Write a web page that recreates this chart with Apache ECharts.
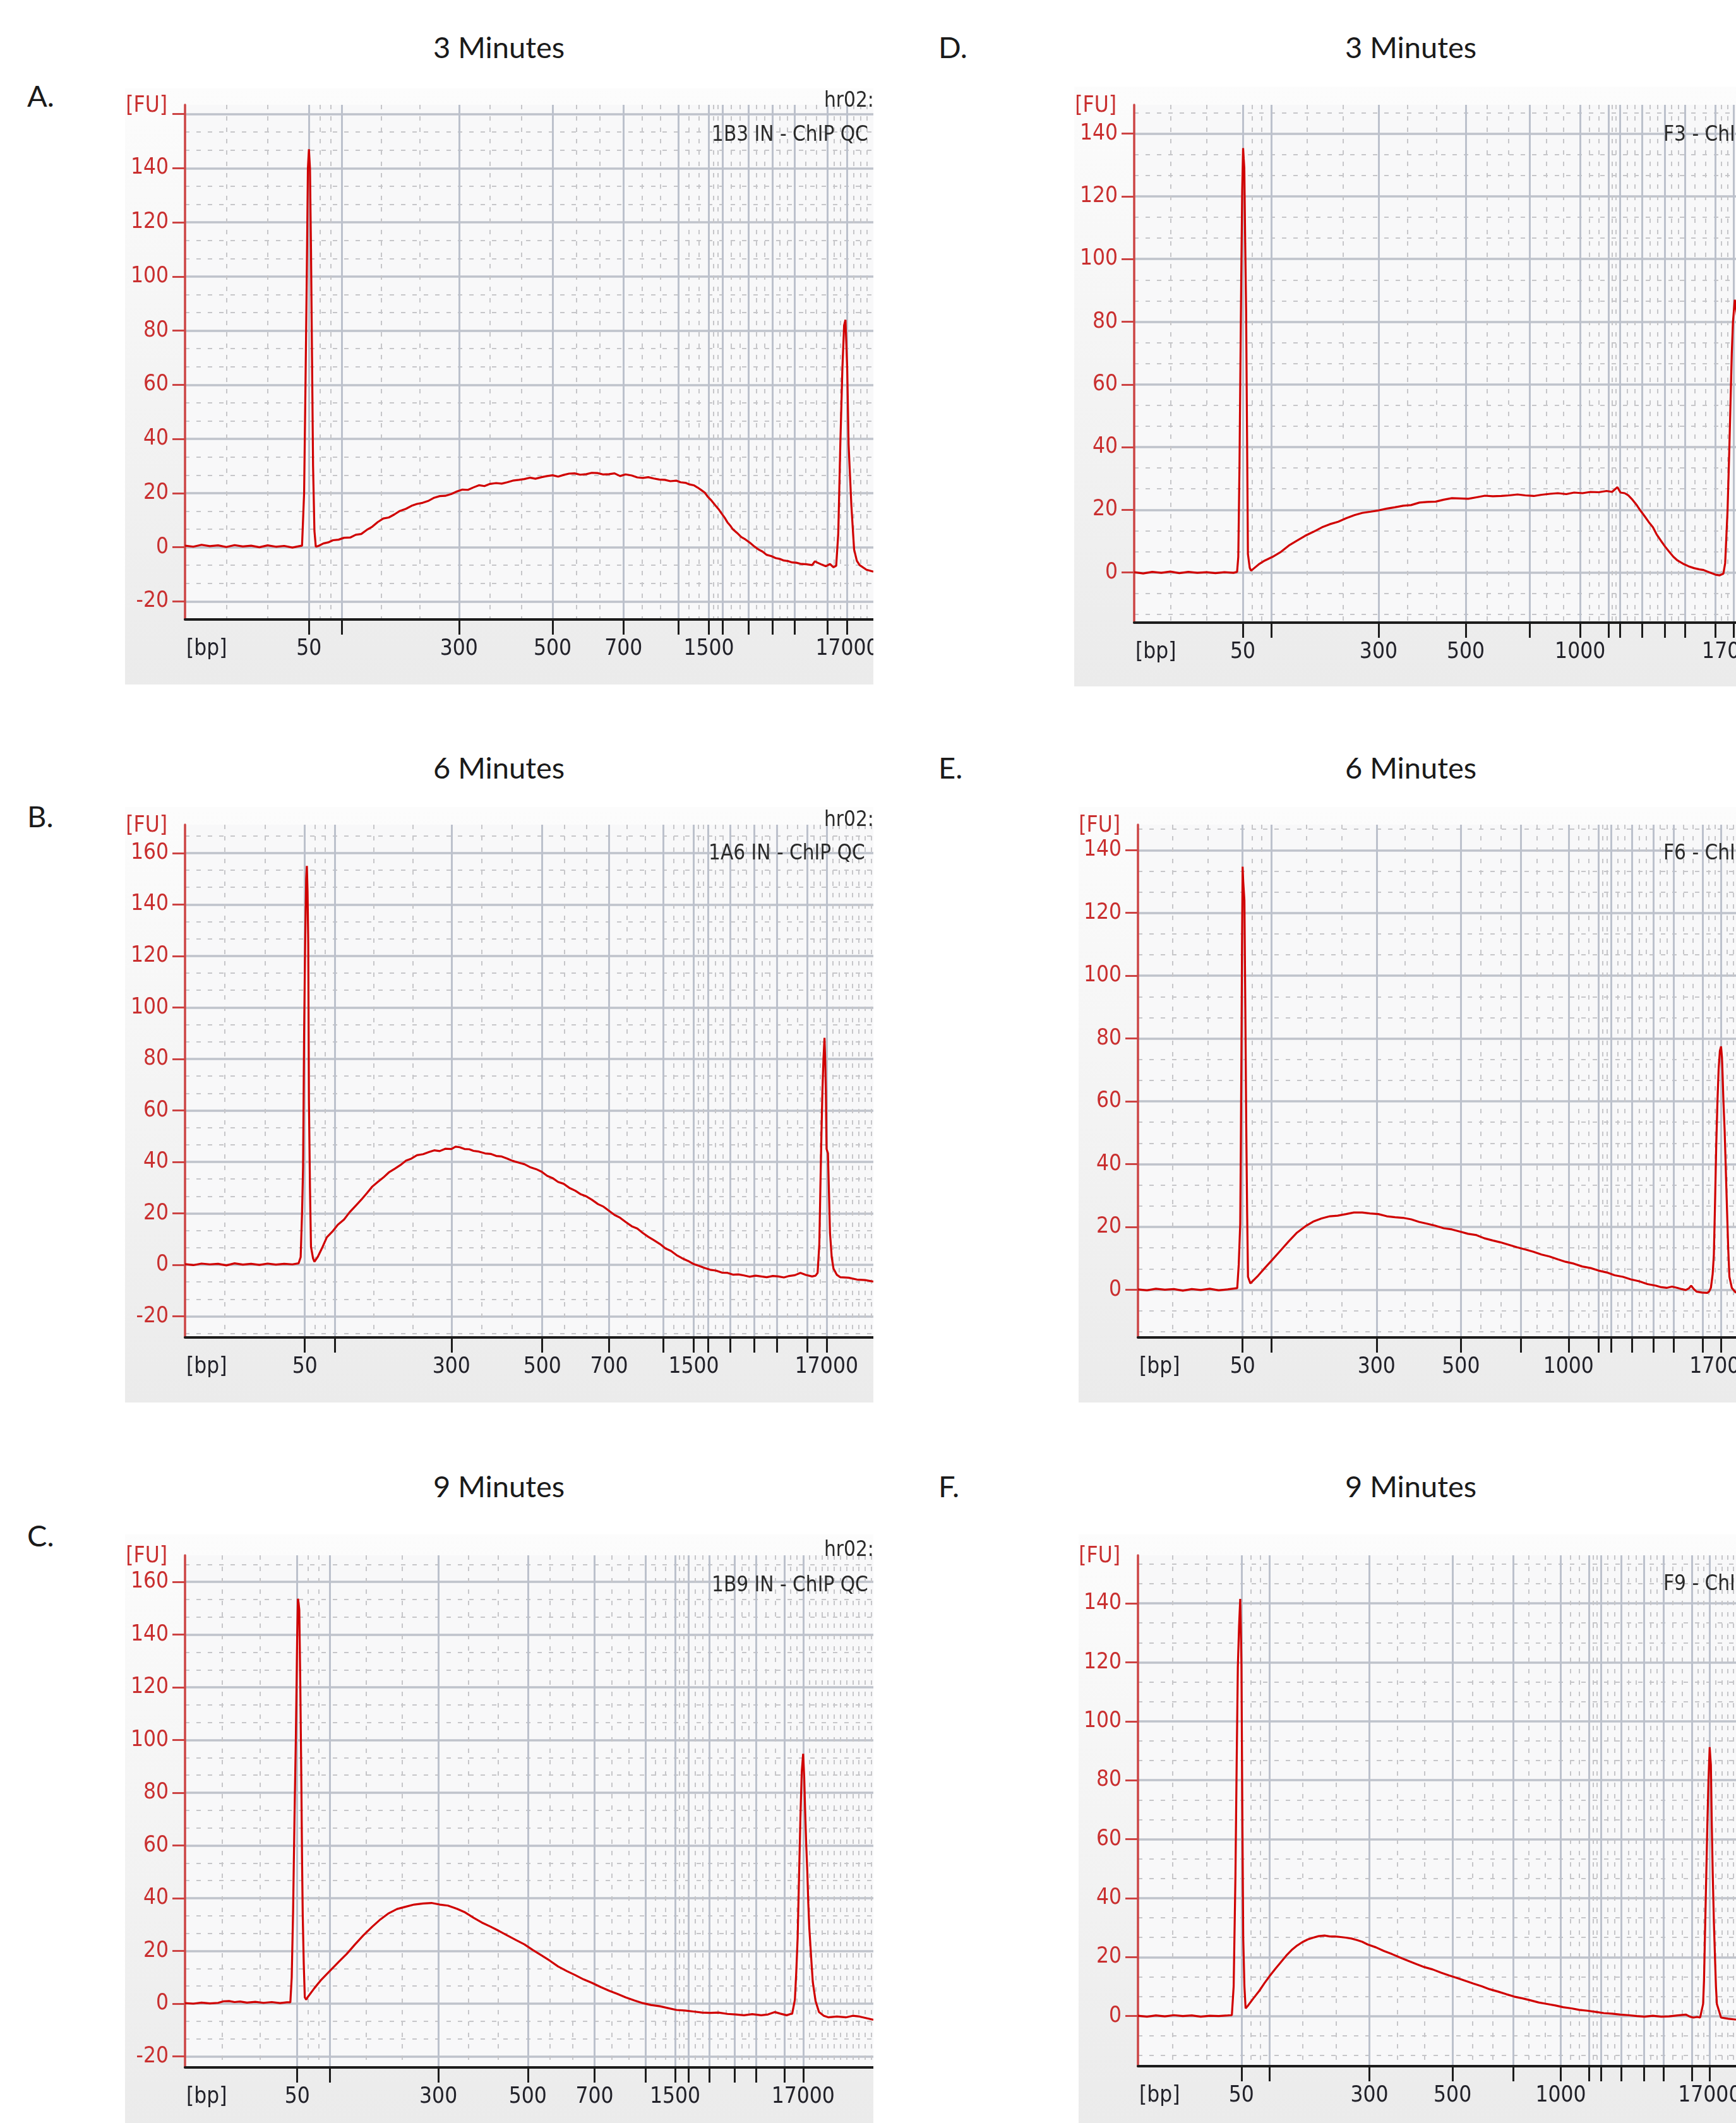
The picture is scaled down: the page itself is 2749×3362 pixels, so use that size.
<!DOCTYPE html>
<html>
<head>
<meta charset="utf-8">
<script src="https://cdn.jsdelivr.net/npm/echarts@6/dist/echarts.min.js"></script>
<style>
  body { margin: 0; width: 2749px; height: 3362px; background: #fff; position: relative; overflow: hidden; }
  .panel { position: absolute; overflow: hidden; background: linear-gradient(#fcfcfc, #ebebeb); }
  .chart { position: absolute; left: 0; top: 0; }
  .title { position: absolute; font: 47px Lato, "Open Sans", sans-serif; line-height: 1; color: #1a1a1a; transform: translate(-50%, -50%); white-space: nowrap; }
  .letter { position: absolute; font: 47px Lato, "Open Sans", sans-serif; line-height: 1; color: #1a1a1a; transform: translateY(-50%); }
</style>
</head>
<body>
<div class="title" style="left:790px;top:74px">3 Minutes</div>
<div class="title" style="left:790px;top:1215px">6 Minutes</div>
<div class="title" style="left:790px;top:2353px">9 Minutes</div>
<div class="title" style="left:2234px;top:74px">3 Minutes</div>
<div class="title" style="left:2234px;top:1215px">6 Minutes</div>
<div class="title" style="left:2234px;top:2353px">9 Minutes</div>
<div class="letter" style="left:43px;top:151px">A.</div>
<div class="letter" style="left:43px;top:1292px">B.</div>
<div class="letter" style="left:43px;top:2431px">C.</div>
<div class="letter" style="left:1486px;top:74px">D.</div>
<div class="letter" style="left:1486px;top:1215px">E.</div>
<div class="letter" style="left:1486px;top:2353px">F.</div>

<script>
// migration position as % of the visible plot width, ladder ticks and their bp labels
const xTicksA = [18.0, 22.8, 39.8, 53.4, 63.7, 71.7, 76.1, 78.1, 81.9, 85.3, 88.6, 93.3, 96.2];
const xTicksB = [17.4, 21.8, 38.7, 51.9, 61.6, 69.5, 73.9, 76.0, 79.2, 82.7, 86.0, 90.4, 93.2];
const xTicksC = [16.3, 21.0, 36.8, 49.8, 59.5, 66.9, 71.2, 73.1, 76.2, 79.8, 83.0, 87.1, 89.8];
const xTicksD = [18.05, 22.8, 40.6, 55.1, 65.7, 74.1, 78.8, 80.7, 84.4, 88.2, 91.5, 96.6, 99.6];
const xTicksE = [17.5, 22.3, 39.9, 54.0, 64.0, 72.0, 77.0, 79.1, 82.6, 86.2, 89.6, 94.4, 97.5];
const xTicksF = [17.3, 22.0, 38.7, 52.6, 62.7, 70.7, 75.4, 77.4, 80.8, 84.6, 87.9, 92.6, 95.6];
const xLabelsLeft = ['50', '', '300', '500', '700', '', '1500', '', '', '', '', '', '17000'];
const xLabelsRight = ['50', '', '300', '500', '', '1000', '', '', '', '', '', '', '17000'];

const yLabelsA = [-20, 0, 20, 40, 60, 80, 100, 120, 140];
const yLabelsBC = [-20, 0, 20, 40, 60, 80, 100, 120, 140, 160];
const yLabelsDEF = [0, 20, 40, 60, 80, 100, 120, 140];

const samples = ['1B3 IN - ChIP QC', '1A6 IN - ChIP QC', '1B9 IN - ChIP QC', 'F3 - ChIP QC', 'F6 - ChIP QC', 'F9 - ChIP QC'];

// [position, FU]
const curveA = [[0,0.6],[1.2,0.2],[2.4,0.9],[3.6,0.4],[4.8,0.7],[6,0.1],[7.2,0.8],[8.4,0.3],[9.6,0.6],[10.8,0.0],[12,0.7],[13.2,0.2],[14.4,0.5],[15.6,-0.1],[16.6,0.4],[17.0,0.6],
  [17.3,20],[17.5,60],[17.7,103],[17.85,140],[18.0,147],[18.15,140],[18.3,110],[18.45,70],[18.6,30],[18.8,6],[19.0,0.2],
  [19.4,0.5],[20.1,1.4],[20.8,1.8],[21.5,2.6],[22.3,2.8],[23.1,3.5],[24.0,3.6],[24.8,4.6],[25.6,4.9],[26.4,6.4],[27.2,7.6],[28.0,9.3],[28.8,10.6],[29.6,11.0],[30.4,12.1],[31.2,13.4],[32.1,14.2],[32.9,15.3],[33.7,16.0],[34.5,16.4],[35.4,17.2],[36.2,18.3],[37.0,18.9],[37.8,19.0],[38.7,19.7],[39.5,20.6],[40.3,21.3],[41.1,21.2],[41.9,22.1],[42.7,22.9],[43.5,22.6],[44.3,23.4],[45.2,23.7],[46.0,23.5],[46.8,24.0],[47.6,24.6],[48.5,24.9],[49.3,25.2],[50.1,25.7],[50.9,25.3],[51.8,25.9],[52.6,26.3],[53.4,26.6],[54.2,26.1],[55.0,26.7],[55.8,27.2],[56.6,27.3],[57.4,26.8],[58.3,27.0],[59.1,27.5],[59.9,27.4],[60.7,26.9],[61.6,27.0],[62.4,27.3],[63.2,26.3],[64.0,26.9],[64.9,26.5],[65.7,25.8],[66.5,25.6],[67.3,25.9],[68.1,25.4],[68.9,25.0],[69.7,24.9],[70.5,24.4],[71.4,24.6],[72.0,24.0],[72.7,23.8],[73.3,23.2],[73.9,22.9],[74.5,22.0],[75.0,21.1],[75.5,20.2],[75.9,18.8],[76.5,17.2],[77.0,15.6],[77.5,14.1],[78.0,12.3],[78.4,10.9],[78.8,9.2],[79.2,8.0],[79.6,6.6],[80.2,5.3],[80.8,3.8],[81.4,2.9],[82.1,1.6],[82.7,0.3],[83.3,-0.8],[83.9,-1.6],[84.5,-2.8],[85.2,-3.3],[85.8,-4.0],[86.4,-4.3],[87.0,-4.9],[87.6,-5.1],[88.2,-5.6],[88.8,-5.7],[89.4,-6.1],[90.3,-6.3],[91.1,-6.6],[91.5,-5.2],[91.9,-5.7],[92.5,-6.4],[93.1,-7.0],[93.7,-6.2],[94.2,-7.4],[94.6,-6.8],
  [94.9,5],[95.2,38],[95.5,66],[95.75,82],[95.95,84],[96.2,66],[96.4,38],[96.8,15.6],[97.2,-0.8],[97.6,-5],[98.0,-6.6],[99.0,-8.3],[100,-9]];

const curveB = [[0,0.3],[1.2,-0.1],[2.4,0.5],[3.6,0.2],[4.8,0.4],[6,-0.2],[7.2,0.6],[8.4,0.1],[9.6,0.4],[10.8,0.0],[12,0.5],[13.2,0.1],[14.4,0.4],[15.6,0.2],[16.5,0.6],
  [16.8,3],[17.0,20],[17.15,38],[17.3,90],[17.45,125],[17.6,150],[17.7,155],[17.8,145],[17.9,125],[18.0,64],[18.15,30],[18.3,7],[18.6,2.5],[18.8,1.2],
  [19.3,3.2],[19.9,6.5],[20.6,10.7],[21.4,12.9],[22.2,15.6],[23.1,17.6],[23.9,20.4],[24.8,23.0],[25.6,25.3],[26.4,27.8],[27.2,30.4],[28.0,32.2],[28.8,33.9],[29.6,35.9],[30.5,37.4],[31.3,38.8],[32.1,40.5],[32.9,41.3],[33.7,42.6],[34.6,43.0],[35.4,43.8],[36.2,44.5],[37.0,44.2],[37.8,45.1],[38.7,45.0],[39.3,45.9],[39.9,45.7],[40.6,45.0],[41.3,44.9],[41.9,44.3],[42.7,44.0],[43.6,43.3],[44.4,43.1],[45.2,42.3],[46.0,42.1],[46.8,41.3],[47.6,40.4],[48.5,39.7],[49.3,39.1],[50.1,38.0],[51.0,37.2],[51.8,36.2],[52.6,34.6],[53.4,33.7],[54.2,32.2],[55.0,31.5],[55.9,29.8],[56.7,28.8],[57.5,27.4],[58.3,26.6],[59.1,25.3],[60.0,23.6],[60.8,22.6],[61.6,21.0],[62.4,19.4],[63.2,18.3],[64.0,16.7],[64.9,15.0],[65.7,14.1],[66.5,12.4],[67.3,10.9],[68.1,9.6],[69.0,8.1],[69.8,6.4],[70.6,5.4],[71.4,3.8],[72.2,2.6],[73.1,1.5],[73.9,0.3],[74.7,-0.4],[75.5,-1.2],[76.3,-1.9],[77.1,-2.2],[78.0,-3.0],[78.8,-3.1],[79.6,-3.8],[80.4,-3.7],[81.2,-4.1],[82.0,-4.6],[82.9,-4.2],[83.7,-4.5],[84.5,-4.8],[85.4,-4.3],[86.2,-4.5],[87.0,-4.9],[87.8,-4.3],[88.6,-4.0],[89.4,-3.1],[90.2,-3.9],[91.1,-4.5],[91.6,-4.2],
  [91.9,-3.1],[92.15,8],[92.3,29.6],[92.45,50],[92.6,67.5],[92.75,80],[92.9,88.2],[93.0,80],[93.1,67.5],[93.2,45],[93.4,43.4],[93.55,28],[93.7,12.4],[93.95,3],[94.2,-1.4],[94.7,-3.9],[95.2,-4.8],[96.4,-5.0],[97.6,-5.7],[98.8,-5.9],[100,-6.5]];

const curveC = [[0,0.2],[1.2,0.0],[2.4,0.4],[3.6,0.1],[4.8,0.3],[5.6,0.9],[6.4,1.0],[7.2,0.6],[8.0,0.8],[9.0,0.4],[10.2,0.7],[11.4,0.3],[12.6,0.6],[13.8,0.2],[14.8,0.5],[15.3,0.5],
  [15.5,10],[15.7,35],[15.9,70],[16.1,100.7],[16.3,140],[16.4,153.6],[16.5,152],[16.6,149.4],[16.75,120],[16.9,83.9],[17.0,55],[17.1,33.4],[17.25,15],[17.4,2.4],[17.6,1.5],
  [17.8,2.4],[18.8,5.9],[19.8,9.1],[21.0,12.3],[22.3,15.8],[23.5,18.9],[24.7,22.5],[25.9,25.9],[27.2,29.2],[28.4,32.0],[29.6,34.3],[30.8,35.9],[32.1,36.8],[33.3,37.6],[34.6,38.0],[35.8,38.2],[37.0,37.6],[38.2,37.2],[39.5,36.0],[40.7,34.6],[41.9,32.6],[43.1,30.8],[44.4,29.2],[45.6,27.6],[46.8,25.9],[48.1,24.1],[49.3,22.5],[50.5,20.4],[51.8,18.3],[53.0,16.3],[54.2,14.1],[55.5,12.3],[56.7,10.8],[57.9,9.2],[59.1,7.9],[60.4,6.3],[61.6,4.9],[62.8,3.7],[64.0,2.4],[65.3,1.2],[66.5,0.2],[67.7,-0.5],[69.0,-1.0],[70.2,-1.7],[71.4,-2.4],[72.6,-2.6],[73.9,-3.0],[75.1,-3.4],[76.3,-3.5],[77.5,-3.4],[78.8,-3.9],[80.0,-4.1],[81.2,-4.4],[82.4,-4.0],[83.7,-4.4],[84.7,-4.1],[85.7,-3.2],[86.5,-3.8],[87.4,-4.4],[88.0,-3.9],[88.2,-3.9],
  [88.6,1.5],[88.8,12],[89.0,25],[89.2,48],[89.4,70.4],[89.6,88],[89.8,94.8],[89.95,86],[90.1,72.1],[90.25,60],[90.4,50.3],[90.55,38],[90.7,28.4],[91.0,16],[91.2,8.2],[91.6,1],[92.1,-3.2],[92.8,-4.6],[93.5,-5.2],[94.7,-4.9],[96.0,-5.2],[97.0,-4.6],[98.0,-4.9],[99.0,-5.5],[100,-6.1]];

const curveD = [[0,0.1],[1.5,-0.3],[3,0.2],[4.5,-0.1],[6,0.3],[7.5,-0.2],[9,0.2],[10.5,-0.1],[12,0.1],[13.5,-0.2],[15,0.1],[16.5,-0.1],[17.1,0.2],
  [17.3,5],[17.5,34.2],[17.65,65],[17.8,95],[17.95,122],[18.1,135.4],[18.2,132],[18.3,129],[18.45,105],[18.6,83.7],[18.75,45],[18.9,5.9],[19.2,1.5],[19.4,0.6],
  [19.7,1.0],[20.7,2.6],[21.7,3.8],[23.0,5.0],[24.4,6.6],[25.7,8.6],[27.1,10.2],[28.4,11.7],[29.8,13.0],[31.2,14.4],[32.5,15.4],[33.9,16.2],[35.2,17.3],[36.6,18.3],[37.9,19.0],[39.3,19.4],[40.6,19.8],[42.0,20.4],[43.3,20.8],[44.7,21.3],[46.0,21.5],[47.4,22.3],[48.7,22.5],[50.1,22.6],[51.4,23.2],[52.8,23.7],[54.2,23.6],[55.5,23.5],[56.9,24.0],[58.3,24.5],[59.6,24.3],[61.0,24.4],[62.3,24.6],[63.7,24.9],[65.0,24.6],[66.4,24.4],[67.7,24.8],[69.1,25.1],[70.4,25.3],[71.8,25.0],[73.1,25.5],[74.5,25.3],[75.8,25.7],[77.2,25.6],[78.5,26.0],[79.4,25.7],[80.3,27.2],[80.8,25.5],[81.5,25.3],[82.1,24.6],[82.8,23.2],[83.5,21.5],[84.1,19.8],[84.8,18.0],[85.5,16.1],[86.2,14.4],[86.8,12.2],[87.5,10.2],[88.2,8.3],[88.9,6.6],[89.6,5.0],[90.3,3.8],[91.2,2.8],[92.1,2.0],[93.0,1.4],[93.9,1.0],[94.6,0.8],[95.2,0.3],[95.9,-0.2],[96.6,-0.7],[97.3,-0.9],[97.9,-0.4],
  [98.2,3],[98.6,20],[98.9,40],[99.1,55],[99.3,70],[99.5,80],[99.8,87],[100.3,80]];

const curveE = [[0,0.1],[1.5,-0.2],[3,0.3],[4.5,0.0],[6,0.2],[7.5,-0.3],[9,0.2],[10.5,-0.1],[12,0.3],[13.5,-0.2],[15,0.1],[16.6,0.5],
  [16.85,8],[17.1,21],[17.2,45],[17.3,74.7],[17.4,110],[17.5,134.7],[17.6,130],[17.8,124],[17.95,90],[18.1,53.5],[18.25,25],[18.4,4.1],[18.8,2.0],
  [19.0,2.4],[20.1,4.5],[21.2,6.9],[22.5,9.6],[23.9,12.6],[25.2,15.4],[26.6,18.2],[28.0,20.2],[29.3,21.7],[30.7,22.7],[32.1,23.4],[33.4,23.6],[34.8,24.1],[36.1,24.6],[37.5,24.6],[38.8,24.3],[40.2,24.1],[41.6,23.4],[43.0,23.1],[44.3,22.9],[45.7,22.4],[47.0,21.6],[48.4,21.0],[49.7,20.4],[51.1,19.6],[52.5,19.2],[53.9,18.5],[55.2,17.8],[56.6,17.4],[57.9,16.4],[59.3,15.7],[60.6,15.1],[62.0,14.3],[63.4,13.5],[64.8,12.8],[66.1,12.1],[67.5,11.2],[68.8,10.6],[70.2,9.7],[71.5,8.9],[72.9,8.3],[74.3,7.4],[75.7,6.9],[77.0,6.1],[78.4,5.5],[79.7,4.6],[81.1,4.1],[82.4,3.3],[83.8,2.7],[85.2,1.8],[86.6,1.3],[87.5,0.8],[88.4,0.6],[89.3,1.0],[90.2,0.6],[90.9,0.2],[91.6,-0.1],[92.1,0.4],[92.5,1.3],[93.0,0.1],[93.4,-0.6],[94.3,-0.9],[95.2,-1.0],[95.5,-0.6],
  [95.8,0.6],[96.1,5],[96.3,11.2],[96.5,28],[96.7,46.4],[96.9,60],[97.1,70.4],[97.3,76],[97.5,77.5],[97.65,74],[97.7,71.8],[97.9,60],[98.1,50.7],[98.3,38],[98.5,25.3],[98.7,13],[98.9,4.1],[99.3,0.6],[100,-1.0]];

const curveF = [[0,0.1],[1.5,-0.2],[3,0.2],[4.5,-0.1],[6,0.3],[7.5,0.0],[9,0.2],[10.5,-0.2],[12,0.1],[13.5,0.0],[15,0.2],[15.7,0.3],
  [16.0,10],[16.3,47.6],[16.5,85],[16.7,118.3],[16.9,132],[17.1,141.5],[17.2,132],[17.3,119.8],[17.45,70],[17.6,26.6],[17.8,10],[18.0,2.6],[18.3,3.3],
  [19.3,6.0],[20.3,8.6],[21.2,11.3],[22.1,13.8],[23.0,16.1],[23.9,18.3],[24.8,20.5],[25.7,22.4],[26.6,23.9],[27.5,25.1],[28.4,26.0],[29.3,26.6],[30.2,27.1],[31.2,27.3],[32.1,27.0],[33.0,27.0],[33.9,26.8],[34.8,26.6],[35.7,26.3],[36.6,25.8],[37.5,25.2],[38.4,24.3],[39.8,23.3],[41.1,22.1],[42.5,21.0],[43.9,19.8],[45.2,18.7],[46.6,17.6],[47.9,16.6],[49.3,15.8],[50.7,14.7],[52.0,13.8],[53.4,12.9],[54.8,11.9],[56.1,11.0],[57.5,10.1],[58.8,9.1],[60.2,8.3],[61.6,7.4],[62.9,6.6],[64.3,6.0],[65.7,5.3],[67.0,4.6],[68.4,4.1],[69.8,3.6],[71.1,3.0],[72.5,2.6],[73.8,2.1],[75.2,1.8],[76.6,1.4],[77.9,1.0],[79.3,0.8],[80.7,0.5],[82.0,0.3],[83.4,0.0],[84.7,-0.2],[86.1,0.1],[87.5,-0.2],[88.8,-0.1],[90.2,0.2],[91.6,0.5],[92.3,-0.2],[92.9,-0.5],[93.5,-0.3],[94.0,-0.5],
  [94.5,4.1],[94.65,12],[94.8,26.6],[95.0,45],[95.2,64.2],[95.4,80],[95.6,91.2],[95.7,88],[95.8,85.2],[95.95,65],[96.1,49.1],[96.3,32],[96.5,19.1],[96.65,10],[96.8,4.1],[97.5,-0.5],[98.7,-0.9],[100,-1.2]];

// page layout of each panel (box = left, top, width, height of the grey frame)
const panels = [
  { box: [198, 140, 1185, 944], axisX: 293, top: 166, bottom: 981, yMin: -26.67, yMax: 163.4, ticks: xTicksA, labels: xLabelsLeft, yLabels: yLabelsA, curve: curveA, sample: samples[0], sampleAt: [1127, 214], hrAt: [1305, 160] },
  { box: [198, 1278, 1185, 943], axisX: 293, top: 1306, bottom: 2118, yMin: -28.2, yMax: 171, ticks: xTicksB, labels: xLabelsLeft, yLabels: yLabelsBC, curve: curveB, sample: samples[1], sampleAt: [1122, 1352], hrAt: [1305, 1299] },
  { box: [198, 2430, 1185, 932], axisX: 293, top: 2463, bottom: 3274, yMin: -24.2, yMax: 170.1, ticks: xTicksC, labels: xLabelsLeft, yLabels: yLabelsBC, curve: curveC, sample: samples[2], sampleAt: [1127, 2511], hrAt: [1305, 2455] },
  { box: [1701, 137, 1048, 950], axisX: 1796, top: 166, bottom: 986, yMin: -16.0, yMax: 149.2, ticks: xTicksD, labels: xLabelsRight, yLabels: yLabelsDEF, curve: curveD, sample: samples[3], sampleAt: [2634, 214] },
  { box: [1708, 1278, 1041, 943], axisX: 1802, top: 1306, bottom: 2118, yMin: -15.2, yMax: 148.1, ticks: xTicksE, labels: xLabelsRight, yLabels: yLabelsDEF, curve: curveE, sample: samples[4], sampleAt: [2634, 1352] },
  { box: [1708, 2430, 1041, 932], axisX: 1802, top: 2463, bottom: 3272, yMin: -17.0, yMax: 156.3, ticks: xTicksF, labels: xLabelsRight, yLabels: yLabelsDEF, curve: curveF, sample: samples[5], sampleAt: [2634, 2509] }
];

const FONT = '"DejaVu Sans Condensed", "Liberation Sans", sans-serif';
const RED_AXIS = '#cc4444';
const RED_TEXT = '#c92f2f';
const DARK = '#22222a';

function minorX(ticks) {
  const out = [];
  let prev = 0;
  ticks.forEach(t => {
    const d = (t - prev) / 3;
    out.push(prev + d, prev + 2 * d);
    prev = t;
  });
  const step = (ticks[ticks.length - 1] - ticks[ticks.length - 2]) / 3;
  for (let v = prev + step; v < 100; v += step) out.push(v);
  return out;
}

function yMajor(min, max) {
  const out = [];
  for (let v = Math.ceil(min / 20) * 20; v <= max; v += 20) out.push(v);
  return out;
}

function yMinor(min, max) {
  const out = [];
  for (let k = Math.ceil(min * 3 / 20); k * 20 / 3 <= max; k++) {
    if (k % 3 !== 0) out.push(k * 20 / 3);
  }
  return out;
}

panels.forEach(p => {
  const [bx, by, bw, bh] = p.box;
  const wrap = document.createElement('div');
  wrap.className = 'panel';
  wrap.style.cssText = `left:${bx}px;top:${by}px;width:${bw}px;height:${bh}px;`;
  const el = document.createElement('div');
  el.className = 'chart';
  el.style.width = (bw + 300) + 'px';
  el.style.height = bh + 'px';
  wrap.appendChild(el);
  document.body.appendChild(wrap);

  const labelMap = new Map();
  p.ticks.forEach((t, i) => { if (p.labels[i]) labelMap.set(t, p.labels[i]); });

  const label = (text, x, y, fill, align, size) => ({
    type: 'text', x: x - bx, y: y - by, z: 100,
    style: { text, fill, font: `${size}px ${FONT}`, align, verticalAlign: 'middle' }
  });

  const graphic = [
    label('[FU]', p.axisX - 28, p.top + 2, RED_TEXT, 'right', 35),
    label('[bp]', p.axisX + 2, p.bottom + 47, DARK, 'left', 35),
    label(p.sample, p.sampleAt[0], p.sampleAt[1], '#2a2a2a', 'left', 33)
  ];
  if (p.hrAt) graphic.push(label('hr02:', p.hrAt[0], p.hrAt[1], '#2a2a2a', 'left', 33));

  const chart = echarts.init(el, null, { renderer: 'canvas' });
  chart.setOption({
    animation: false,
    grid: {
      left: p.axisX - bx,
      top: p.top - by,
      width: bx + bw - p.axisX,
      height: p.bottom - p.top,
      show: true,
      backgroundColor: '#f8f8f9',
      borderWidth: 0,
      containLabel: false,
      outerBoundsMode: 'none'
    },
    xAxis: [
      {
        type: 'value', min: 0, max: 100, position: 'bottom',
        axisLine: { onZero: false, lineStyle: { color: '#1c1c1c', width: 4 } },
        axisTick: { customValues: p.ticks, length: 24, lineStyle: { color: '#1c1c1c', width: 3 } },
        axisLabel: {
          customValues: [...labelMap.keys()],
          formatter: v => labelMap.get(v) || '',
          margin: 26, color: DARK, fontFamily: FONT, fontSize: 35, lineHeight: 42
        },
        splitLine: { show: true, lineStyle: { color: '#bcc1cc', width: 3 } }
      },
      {
        type: 'value', min: 0, max: 100, position: 'top',
        axisLine: { show: false }, axisLabel: { show: false },
        axisTick: { show: false, customValues: minorX(p.ticks) },
        splitLine: { show: true, lineStyle: { color: '#c6c6c9', width: 2, type: [7, 11] } }
      }
    ],
    yAxis: [
      {
        type: 'value', min: p.yMin, max: p.yMax, position: 'left',
        axisLine: { show: true, onZero: false, lineStyle: { color: RED_AXIS, width: 3.5 } },
        axisTick: { show: true, customValues: yMajor(p.yMin, p.yMax), length: 20, lineStyle: { color: RED_AXIS, width: 3 } },
        axisLabel: {
          customValues: p.yLabels, margin: 26,
          color: RED_TEXT, fontFamily: FONT, fontSize: 35
        },
        splitLine: { show: true, lineStyle: { color: '#bfc3cb', width: 3.5 } }
      },
      {
        type: 'value', min: p.yMin, max: p.yMax, position: 'right',
        axisLine: { show: false }, axisLabel: { show: false },
        axisTick: { show: false, customValues: yMinor(p.yMin, p.yMax) },
        splitLine: { show: true, lineStyle: { color: '#c6c6c9', width: 2, type: [7, 11] } }
      }
    ],
    graphic,
    series: [{
      type: 'line',
      xAxisIndex: 0,
      yAxisIndex: 0,
      data: p.curve,
      showSymbol: false,
      symbol: 'none',
      z: 5,
      lineStyle: { color: '#d00000', width: 3.2 }
    }]
  });
});
</script>
</body>
</html>
